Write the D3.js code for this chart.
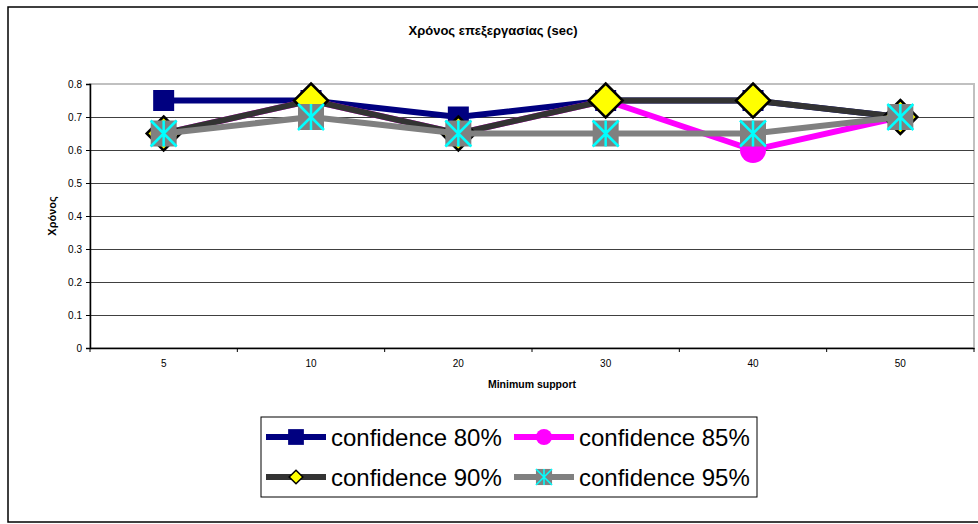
<!DOCTYPE html>
<html lang="el">
<head>
<meta charset="UTF-8">
<title>Χρόνος επεξεργασίας</title>
<script src="https://d3js.org/d3.v7.min.js"></script>
<style>
  body { margin: 0; background: #fff; }
  svg { display: block; font-family: Arial, "Liberation Sans", sans-serif; }
</style>
</head>
<body>
<svg></svg>
<script>
const categories = ["5", "10", "20", "30", "40", "50"];
const conf80 = [0.75, 0.75, 0.70, 0.75, 0.75, 0.70];
const conf85 = [0.65, 0.75, 0.65, 0.75, 0.60, 0.70];
const conf90 = [0.65, 0.75, 0.65, 0.75, 0.75, 0.70];
const conf95 = [0.65, 0.70, 0.65, 0.65, 0.65, 0.70];
const yTicks = [0, 0.1, 0.2, 0.3, 0.4, 0.5, 0.6, 0.7, 0.8];
const seriesNames = ["confidence 80%", "confidence 85%", "confidence 90%", "confidence 95%"];

const width = 978, height = 524;
const margin = {top: 84, right: 4, bottom: 176, left: 90};

const svg = d3.select("svg").attr("width", width).attr("height", height);

// outer chart frame
svg.append("rect")
  .attr("x", 8).attr("y", 7).attr("width", 980).attr("height", 515)
  .attr("fill", "#fff").attr("stroke", "#000").attr("stroke-width", 1.5);

const x = d3.scaleBand().domain(categories).range([margin.left, width - margin.right]);
const y = d3.scaleLinear().domain([0, 0.8]).range([height - margin.bottom, margin.top]);

// plot area border (gray)
svg.append("rect")
  .attr("x", margin.left).attr("y", margin.top)
  .attr("width", width - margin.right - margin.left)
  .attr("height", y(0) - margin.top)
  .attr("fill", "none").attr("stroke", "#c0c0c0").attr("stroke-width", 2);

// gridlines
svg.append("g")
  .selectAll("line")
  .data(yTicks.filter(d => d > 0 && d < 0.8))
  .join("line")
  .attr("x1", margin.left).attr("x2", width - margin.right)
  .attr("y1", d => Math.round(y(d)) + 0.5).attr("y2", d => Math.round(y(d)) + 0.5)
  .attr("stroke", "#404040").attr("stroke-width", 1);

// y axis
const yAxis = svg.append("g")
  .attr("transform", `translate(${margin.left},0)`)
  .call(d3.axisLeft(y).tickValues(yTicks).tickFormat(d => d === 0 ? "0" : d3.format(".1f")(d)).tickSize(4).tickPadding(4));
yAxis.select(".domain").attr("stroke", "#000").attr("stroke-width", 1.5);
yAxis.selectAll(".tick line").attr("stroke", "#000");
yAxis.selectAll("text").attr("font-size", 10).attr("fill", "#000");

// x axis: ticks between categories
const xAxis = svg.append("g")
  .attr("transform", `translate(0,${y(0)})`)
  .call(d3.axisBottom(x).tickSize(0).tickPadding(12));
xAxis.select(".domain").attr("stroke", "#000").attr("stroke-width", 1.5);
xAxis.selectAll("text").attr("font-size", 10).attr("fill", "#000");
xAxis.selectAll(".sep")
  .data(d3.range(categories.length + 1))
  .join("line")
  .attr("class", "sep")
  .attr("x1", i => margin.left + i * x.step()).attr("x2", i => margin.left + i * x.step())
  .attr("y1", 0).attr("y2", 4)
  .attr("stroke", "#000");

// titles
svg.append("text").attr("x", 493).attr("y", 35).attr("text-anchor", "middle")
  .attr("font-size", 13).attr("font-weight", "bold").text("Χρόνος επεξεργασίας (sec)");
svg.append("text").attr("x", 532).attr("y", 388).attr("text-anchor", "middle")
  .attr("font-size", 10.5).attr("font-weight", "bold").text("Minimum support");
svg.append("text").attr("transform", "translate(56,216) rotate(-90)").attr("text-anchor", "middle")
  .attr("font-size", 11).attr("font-weight", "bold").text("Χρόνος");

const cx = (d, i) => x(categories[i]) + x.bandwidth() / 2;

const series = [
  {name: seriesNames[0], values: conf80, color: "#000080", marker: "square", ls: 0.75},
  {name: seriesNames[1], values: conf85, color: "#ff00ff", marker: "circle", ls: 0.62},
  {name: seriesNames[2], values: conf90, color: "#333333", marker: "diamond", ls: 0.4},
  {name: seriesNames[3], values: conf95, color: "#808080", marker: "star", ls: 0.62}
];

function drawMarker(g, type, s) {
  if (type === "square") {
    g.append("rect").attr("x", -10.5 * s).attr("y", -10.5 * s).attr("width", 21 * s).attr("height", 21 * s)
      .attr("fill", "#000080");
  } else if (type === "circle") {
    g.append("circle").attr("r", 13 * s).attr("fill", "#ff00ff");
  } else if (type === "diamond") {
    const r = 17 * s;
    g.append("path").attr("d", `M0,${-r}L${r},0L0,${r}L${-r},0Z`)
      .attr("fill", "#ffff00").attr("stroke", "#000").attr("stroke-width", Math.max(1.5, 2.5 * s));
  } else if (type === "star") {
    const h = 13 * s;
    g.append("rect").attr("x", -h).attr("y", -h).attr("width", 2 * h).attr("height", 2 * h).attr("fill", "#808080");
    g.append("path").attr("d", `M${-h},${-h}L${h},${h}M${h},${-h}L${-h},${h}M0,${-h}L0,${h}`)
      .attr("stroke", "#00ffff").attr("stroke-width", 2.5 * s).attr("fill", "none");
  }
}

const line = d3.line().x(cx).y(d => y(d));

series.forEach(sr => {
  const g = svg.append("g");
  g.append("path").datum(sr.values).attr("d", line)
    .attr("fill", "none").attr("stroke", sr.color).attr("stroke-width", 6).attr("stroke-linejoin", "round");
  sr.values.forEach((v, i) => {
    const m = g.append("g").attr("transform", `translate(${cx(v, i)},${y(v)})`);
    drawMarker(m, sr.marker, 1);
  });
});

// legend
const legend = svg.append("g");
legend.append("rect").attr("x", 261).attr("y", 417).attr("width", 496).attr("height", 80)
  .attr("fill", "#fff").attr("stroke", "#000").attr("stroke-width", 1);
const legendPos = [[266, 437], [514, 437], [266, 477], [514, 477]];
series.forEach((sr, i) => {
  const [lx, ly] = legendPos[i];
  const g = legend.append("g").attr("transform", `translate(${lx},${ly})`);
  g.append("line").attr("x1", 0).attr("x2", 60).attr("y1", 0).attr("y2", 0)
    .attr("stroke", sr.color).attr("stroke-width", 6);
  const m = g.append("g").attr("transform", "translate(30,0)");
  drawMarker(m, sr.marker, sr.ls);
  g.append("text").attr("x", 65).attr("y", 9).attr("font-size", 24).attr("fill", "#000").text(sr.name);
});
</script>
</body>
</html>
